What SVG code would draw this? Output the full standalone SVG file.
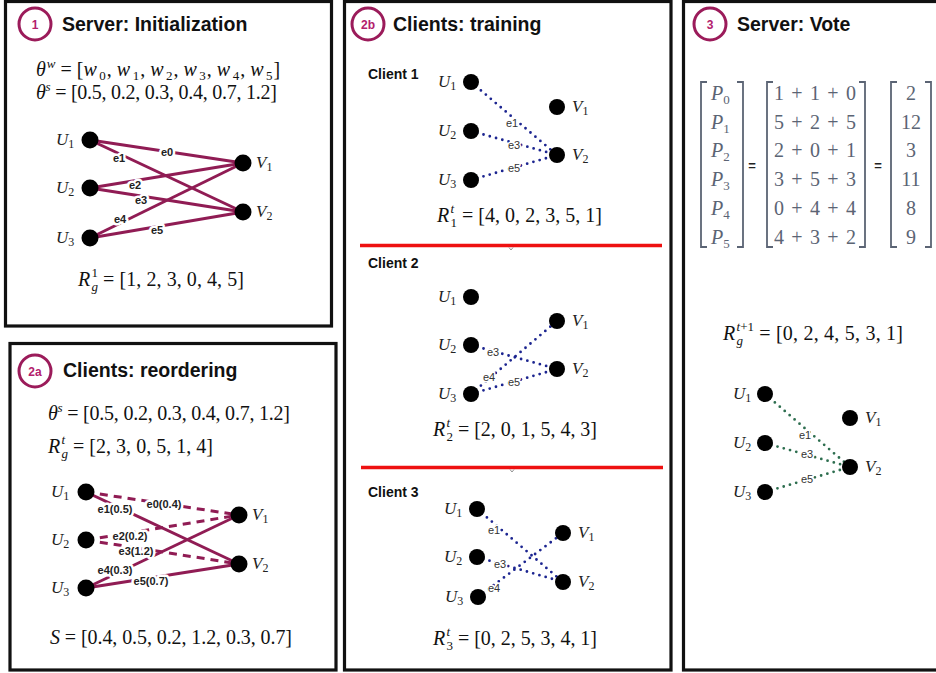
<svg xmlns="http://www.w3.org/2000/svg" width="936" height="673" viewBox="0 0 936 673">
  <style>
    .panel { fill: #fff; stroke: #111; stroke-width: 3.2; }
    .badge circle { fill: #fff; stroke: #9b1b5a; stroke-width: 3; }
    .badge text { font-family: "Liberation Sans", Arial, sans-serif; font-weight: bold; font-size: 12px; fill: #b3206c; text-anchor: middle; }
    .title { font-family: "Liberation Sans", Arial, sans-serif; font-weight: bold; font-size: 19.5px; fill: #111; }
    .client { font-family: "Liberation Sans", Arial, sans-serif; font-weight: bold; font-size: 14px; fill: #111; }
    .m { font-family: "Liberation Serif", "Times New Roman", serif; font-size: 20px; fill: #111; }
    .mg { font-family: "Liberation Serif", "Times New Roman", serif; font-size: 20px; fill: #5b6474; }
    .i { font-style: italic; }
    .s { font-size: 13px; }
    .node circle { fill: #000; }
    .node text { font-family: "Liberation Serif", "Times New Roman", serif; font-style: italic; font-size: 17px; fill: #222; }
    .node tspan { font-style: normal; font-size: 12px; }
    .edge { fill: none; stroke: #901c54; stroke-width: 3; }
    .dash { stroke-dasharray: 8 6; }
    .blue { fill: none; stroke: #1c2590; stroke-width: 2.8; stroke-linecap: round; stroke-dasharray: 0 6.5; }
    .green { fill: none; stroke: #2d6e4f; stroke-width: 2.8; stroke-linecap: round; stroke-dasharray: 0 6.5; }
    .lb { font-family: "Liberation Sans", Arial, sans-serif; font-weight: bold; font-size: 11px; fill: #222; text-anchor: middle; stroke: #fff; stroke-width: 5; stroke-linejoin: round; paint-order: stroke; }
    .ln { font-family: "Liberation Sans", Arial, sans-serif; font-size: 11px; fill: #333; text-anchor: middle; stroke: #fff; stroke-width: 3; stroke-linejoin: round; paint-order: stroke; }
    .brk { fill: none; stroke: #5b6474; stroke-width: 1.8; }
    .eq { font-family: "Liberation Sans", Arial, sans-serif; font-weight: bold; font-size: 13px; fill: #222; text-anchor: middle; }
    .sep { stroke: #ee1111; stroke-width: 3.5; }
  </style>

  <rect width="936" height="673" fill="#fff"/>

  <!-- panel frames -->
  <rect class="panel" x="5.5" y="1.5" width="326" height="324.5"/>
  <rect class="panel" x="10" y="343.5" width="326" height="326.5"/>
  <rect class="panel" x="344.5" y="1.5" width="326.5" height="668.5"/>
  <rect class="panel" x="683.5" y="1.5" width="260" height="668.5"/>

  <!-- ============ 1: Server initialization ============ -->
  <g id="badge-1" class="badge"><circle cx="35" cy="24" r="16"/><text x="35" y="28.5">1</text></g>
  <text class="title" x="62" y="31">Server: Initialization</text>
  <text class="m" x="36" y="76"><tspan class="i">θ</tspan><tspan class="i s" dx="1" dy="-8">w</tspan><tspan dy="8"> = [</tspan><tspan class="i">w</tspan><tspan class="s" dx="2.5" dy="4">0</tspan><tspan dy="-4" dx="1">,  </tspan><tspan class="i">w</tspan><tspan class="s" dx="2.5" dy="4">1</tspan><tspan dy="-4" dx="1">,  </tspan><tspan class="i">w</tspan><tspan class="s" dx="2.5" dy="4">2</tspan><tspan dy="-4" dx="1">,  </tspan><tspan class="i">w</tspan><tspan class="s" dx="2.5" dy="4">3</tspan><tspan dy="-4" dx="1">,  </tspan><tspan class="i">w</tspan><tspan class="s" dx="2.5" dy="4">4</tspan><tspan dy="-4" dx="1">,  </tspan><tspan class="i">w</tspan><tspan class="s" dx="2.5" dy="4">5</tspan><tspan dy="-4" dx="1">]</tspan></text>
  <text class="m" x="36" y="99" textLength="241" lengthAdjust="spacing"><tspan class="i">θ</tspan><tspan class="i s" dy="-8">s</tspan><tspan dy="8"> = [0.5, 0.2, 0.3, 0.4, 0.7, 1.2]</tspan></text>

  <g id="edges-init">
    <line class="edge" x1="90" y1="140" x2="243" y2="163"/>
    <line class="edge" x1="90" y1="140" x2="243" y2="212"/>
    <line class="edge" x1="90" y1="188" x2="243" y2="163"/>
    <line class="edge" x1="90" y1="188" x2="243" y2="212"/>
    <line class="edge" x1="90" y1="238" x2="243" y2="163"/>
    <line class="edge" x1="90" y1="238" x2="243" y2="212"/>
    <text class="lb" x="167" y="156">e0</text>
    <text class="lb" x="119" y="162">e1</text>
    <text class="lb" x="135" y="189">e2</text>
    <text class="lb" x="141" y="204">e3</text>
    <text class="lb" x="120" y="223">e4</text>
    <text class="lb" x="157" y="234">e5</text>
  </g>
  <g id="init-U1" class="node"><circle cx="90" cy="140" r="8.5"/><text x="56" y="145">U<tspan dy="3">1</tspan></text></g>
  <g id="init-U2" class="node"><circle cx="90" cy="188" r="8.5"/><text x="56" y="193">U<tspan dy="3">2</tspan></text></g>
  <g id="init-U3" class="node"><circle cx="90" cy="238" r="8.5"/><text x="56" y="243">U<tspan dy="3">3</tspan></text></g>
  <g id="init-V1" class="node"><circle cx="243" cy="163" r="8.5"/><text x="256" y="168">V<tspan dy="3">1</tspan></text></g>
  <g id="init-V2" class="node"><circle cx="243" cy="212" r="8.5"/><text x="256" y="217">V<tspan dy="3">2</tspan></text></g>
  <text class="m" x="78" y="286"><tspan class="i">R</tspan><tspan class="s" x="91.5" dy="-9.5">1</tspan><tspan class="i s" x="91.5" dy="14.5">g</tspan><tspan dy="-5" textLength="146" lengthAdjust="spacing"> = [1, 2, 3, 0, 4, 5]</tspan></text>

  <!-- ============ 2a: Clients reordering ============ -->
  <g id="badge-2a" class="badge"><circle cx="35" cy="371" r="16"/><text x="35" y="375.5">2a</text></g>
  <text class="title" x="63" y="377">Clients: reordering</text>
  <text class="m" x="48" y="420" textLength="242" lengthAdjust="spacing"><tspan class="i">θ</tspan><tspan class="i s" dy="-8">s</tspan><tspan dy="8"> = [0.5, 0.2, 0.3, 0.4, 0.7, 1.2]</tspan></text>
  <text class="m" x="48" y="453"><tspan class="i">R</tspan><tspan class="i s" x="61.5" dy="-9.5">t</tspan><tspan class="i s" x="61.5" dy="14.5">g</tspan><tspan dy="-5" textLength="145" lengthAdjust="spacing"> = [2, 3, 0, 5, 1, 4]</tspan></text>

  <g id="edges-reorder">
    <line class="edge dash" x1="86" y1="492" x2="239" y2="515"/>
    <line class="edge" x1="86" y1="492" x2="239" y2="564"/>
    <line class="edge dash" x1="86" y1="540" x2="239" y2="515"/>
    <line class="edge dash" x1="86" y1="540" x2="239" y2="564"/>
    <line class="edge" x1="86" y1="588" x2="239" y2="515"/>
    <line class="edge" x1="86" y1="588" x2="239" y2="564"/>
    <text class="lb" x="164" y="508">e0(0.4)</text>
    <text class="lb" x="115" y="513">e1(0.5)</text>
    <text class="lb" x="130" y="540">e2(0.2)</text>
    <text class="lb" x="136" y="555">e3(1.2)</text>
    <text class="lb" x="115" y="574">e4(0.3)</text>
    <text class="lb" x="151" y="585">e5(0.7)</text>
  </g>
  <g id="reorder-U1" class="node"><circle cx="86" cy="492" r="8.5"/><text x="51" y="497">U<tspan dy="3">1</tspan></text></g>
  <g id="reorder-U2" class="node"><circle cx="86" cy="540" r="8.5"/><text x="51" y="545">U<tspan dy="3">2</tspan></text></g>
  <g id="reorder-U3" class="node"><circle cx="86" cy="588" r="8.5"/><text x="51" y="593">U<tspan dy="3">3</tspan></text></g>
  <g id="reorder-V1" class="node"><circle cx="239" cy="515" r="8.5"/><text x="252" y="520">V<tspan dy="3">1</tspan></text></g>
  <g id="reorder-V2" class="node"><circle cx="239" cy="564" r="8.5"/><text x="252" y="569">V<tspan dy="3">2</tspan></text></g>
  <text class="m" x="50" y="644" textLength="242" lengthAdjust="spacing"><tspan class="i">S</tspan> = [0.4, 0.5, 0.2, 1.2, 0.3, 0.7]</text>

  <!-- ============ 2b: Clients training ============ -->
  <g id="badge-2b" class="badge"><circle cx="368" cy="24" r="16"/><text x="368" y="28.5">2b</text></g>
  <text class="title" x="393" y="31">Clients: training</text>

  <!-- client 1 -->
  <text class="client" x="368" y="79">Client 1</text>
  <g id="edges-c1">
    <line class="blue" x1="471" y1="82" x2="557" y2="155"/>
    <line class="blue" x1="471" y1="131" x2="557" y2="155"/>
    <line class="blue" x1="471" y1="180" x2="557" y2="155"/>
    <text class="ln" x="512" y="127">e1</text>
    <text class="ln" x="514" y="149">e3</text>
    <text class="ln" x="514" y="172">e5</text>
  </g>
  <g id="c1-U1" class="node"><circle cx="471" cy="82" r="8"/><text x="438" y="87">U<tspan dy="3">1</tspan></text></g>
  <g id="c1-U2" class="node"><circle cx="471" cy="131" r="8"/><text x="438" y="136">U<tspan dy="3">2</tspan></text></g>
  <g id="c1-U3" class="node"><circle cx="471" cy="180" r="8"/><text x="438" y="185">U<tspan dy="3">3</tspan></text></g>
  <g id="c1-V1" class="node"><circle cx="557" cy="107" r="8"/><text x="572" y="112">V<tspan dy="3">1</tspan></text></g>
  <g id="c1-V2" class="node"><circle cx="557" cy="155" r="8"/><text x="572" y="160">V<tspan dy="3">2</tspan></text></g>
  <text class="m" x="437" y="222"><tspan class="i">R</tspan><tspan class="i s" x="450.5" dy="-9.5">t</tspan><tspan class="s" x="450.5" dy="14.5">1</tspan><tspan dy="-5" textLength="145" lengthAdjust="spacing"> = [4, 0, 2, 3, 5, 1]</tspan></text>

  <line class="sep" x1="360" y1="245.5" x2="662" y2="245.5"/>
  <path d="M509 247.5 L511 250 L513 247.5" fill="none" stroke="#777" stroke-width="0.8"/>

  <!-- client 2 -->
  <text class="client" x="368" y="268">Client 2</text>
  <g id="edges-c2">
    <line class="blue" x1="471" y1="345" x2="557" y2="369"/>
    <line class="blue" x1="471" y1="394" x2="557" y2="321"/>
    <line class="blue" x1="471" y1="394" x2="557" y2="369"/>
    <text class="ln" x="493" y="356">e3</text>
    <text class="ln" x="489" y="381">e4</text>
    <text class="ln" x="514" y="386">e5</text>
  </g>
  <g id="c2-U1" class="node"><circle cx="471" cy="297" r="8"/><text x="438" y="302">U<tspan dy="3">1</tspan></text></g>
  <g id="c2-U2" class="node"><circle cx="471" cy="345" r="8"/><text x="438" y="350">U<tspan dy="3">2</tspan></text></g>
  <g id="c2-U3" class="node"><circle cx="471" cy="394" r="8"/><text x="438" y="399">U<tspan dy="3">3</tspan></text></g>
  <g id="c2-V1" class="node"><circle cx="557" cy="321" r="8"/><text x="572" y="326">V<tspan dy="3">1</tspan></text></g>
  <g id="c2-V2" class="node"><circle cx="557" cy="369" r="8"/><text x="572" y="374">V<tspan dy="3">2</tspan></text></g>
  <text class="m" x="433" y="436"><tspan class="i">R</tspan><tspan class="i s" x="446.5" dy="-9.5">t</tspan><tspan class="s" x="446.5" dy="14.5">2</tspan><tspan dy="-5" textLength="144" lengthAdjust="spacing"> = [2, 0, 1, 5, 4, 3]</tspan></text>

  <line class="sep" x1="361" y1="467.5" x2="663" y2="467.5"/>
  <path d="M510 469.5 L512 472 L514 469.5" fill="none" stroke="#777" stroke-width="0.8"/>

  <!-- client 3 -->
  <text class="client" x="368" y="497">Client 3</text>
  <g id="edges-c3">
    <line class="blue" x1="477" y1="509" x2="563" y2="582"/>
    <line class="blue" x1="477" y1="557" x2="563" y2="582"/>
    <line class="blue" x1="478" y1="597" x2="563" y2="533"/>
    <text class="ln" x="494" y="534">e1</text>
    <text class="ln" x="500" y="568">e3</text>
    <text class="ln" x="494" y="592">e4</text>
  </g>
  <g id="c3-U1" class="node"><circle cx="477" cy="509" r="8"/><text x="444" y="514">U<tspan dy="3">1</tspan></text></g>
  <g id="c3-U2" class="node"><circle cx="477" cy="557" r="8"/><text x="444" y="562">U<tspan dy="3">2</tspan></text></g>
  <g id="c3-U3" class="node"><circle cx="478" cy="597" r="8"/><text x="445" y="602">U<tspan dy="3">3</tspan></text></g>
  <g id="c3-V1" class="node"><circle cx="563" cy="533" r="8"/><text x="578" y="538">V<tspan dy="3">1</tspan></text></g>
  <g id="c3-V2" class="node"><circle cx="563" cy="582" r="8"/><text x="578" y="587">V<tspan dy="3">2</tspan></text></g>
  <text class="m" x="433" y="645"><tspan class="i">R</tspan><tspan class="i s" x="446.5" dy="-9.5">t</tspan><tspan class="s" x="446.5" dy="14.5">3</tspan><tspan dy="-5" textLength="144" lengthAdjust="spacing"> = [0, 2, 5, 3, 4, 1]</tspan></text>

  <!-- ============ 3: Server vote ============ -->
  <g id="badge-3" class="badge"><circle cx="710" cy="24" r="16"/><text x="710" y="28.5">3</text></g>
  <text class="title" x="737" y="31">Server: Vote</text>

  <!-- vote matrices -->
  <path class="brk" d="M707 82 H701 V247 H707 M737 82 H743 V247 H737"/>
  <path class="brk" d="M773 82 H767 V247 H773 M859 82 H865 V247 H859"/>
  <path class="brk" d="M897 82 H891 V247 H897 M925 82 H931 V247 H925"/>
  <text class="mg" x="711" y="100"><tspan class="i">P</tspan><tspan class="s" dy="4">0</tspan></text>
  <text class="mg" x="711" y="128.5"><tspan class="i">P</tspan><tspan class="s" dy="4">1</tspan></text>
  <text class="mg" x="711" y="157"><tspan class="i">P</tspan><tspan class="s" dy="4">2</tspan></text>
  <text class="mg" x="711" y="186"><tspan class="i">P</tspan><tspan class="s" dy="4">3</tspan></text>
  <text class="mg" x="711" y="215"><tspan class="i">P</tspan><tspan class="s" dy="4">4</tspan></text>
  <text class="mg" x="711" y="244"><tspan class="i">P</tspan><tspan class="s" dy="4">5</tspan></text>
  <text class="eq" x="752" y="170">=</text>
  <text class="mg" x="774" y="100" textLength="82" lengthAdjust="spacing">1 + 1 + 0</text>
  <text class="mg" x="774" y="128.5" textLength="82" lengthAdjust="spacing">5 + 2 + 5</text>
  <text class="mg" x="774" y="157" textLength="82" lengthAdjust="spacing">2 + 0 + 1</text>
  <text class="mg" x="774" y="186" textLength="82" lengthAdjust="spacing">3 + 5 + 3</text>
  <text class="mg" x="774" y="215" textLength="82" lengthAdjust="spacing">0 + 4 + 4</text>
  <text class="mg" x="774" y="244" textLength="82" lengthAdjust="spacing">4 + 3 + 2</text>
  <text class="eq" x="878" y="170">=</text>
  <g class="mg" text-anchor="middle">
    <text x="911" y="100">2</text>
    <text x="911" y="128.5">12</text>
    <text x="911" y="157">3</text>
    <text x="911" y="186">11</text>
    <text x="911" y="215">8</text>
    <text x="911" y="244">9</text>
  </g>

  <text class="m" x="723" y="340"><tspan class="i">R</tspan><tspan class="i s" x="736.5" dy="5">g</tspan><tspan class="s" x="736.5" dy="-14.5"><tspan class="i">t</tspan>+1</tspan><tspan dy="9.5" textLength="149" lengthAdjust="spacing"> = [0, 2, 4, 5, 3, 1]</tspan></text>

  <g id="edges-vote">
    <line class="green" x1="765" y1="394" x2="850" y2="467"/>
    <line class="green" x1="765" y1="443" x2="850" y2="467"/>
    <line class="green" x1="765" y1="492" x2="850" y2="467"/>
    <text class="ln" x="805" y="439">e1</text>
    <text class="ln" x="807" y="458">e3</text>
    <text class="ln" x="807" y="483">e5</text>
  </g>
  <g id="vote-U1" class="node"><circle cx="765" cy="394" r="8"/><text x="733" y="399">U<tspan dy="3">1</tspan></text></g>
  <g id="vote-U2" class="node"><circle cx="765" cy="443" r="8"/><text x="733" y="448">U<tspan dy="3">2</tspan></text></g>
  <g id="vote-U3" class="node"><circle cx="765" cy="492" r="8"/><text x="733" y="497">U<tspan dy="3">3</tspan></text></g>
  <g id="vote-V1" class="node"><circle cx="850" cy="418" r="8"/><text x="865" y="423">V<tspan dy="3">1</tspan></text></g>
  <g id="vote-V2" class="node"><circle cx="850" cy="467" r="8"/><text x="865" y="472">V<tspan dy="3">2</tspan></text></g>
</svg>
